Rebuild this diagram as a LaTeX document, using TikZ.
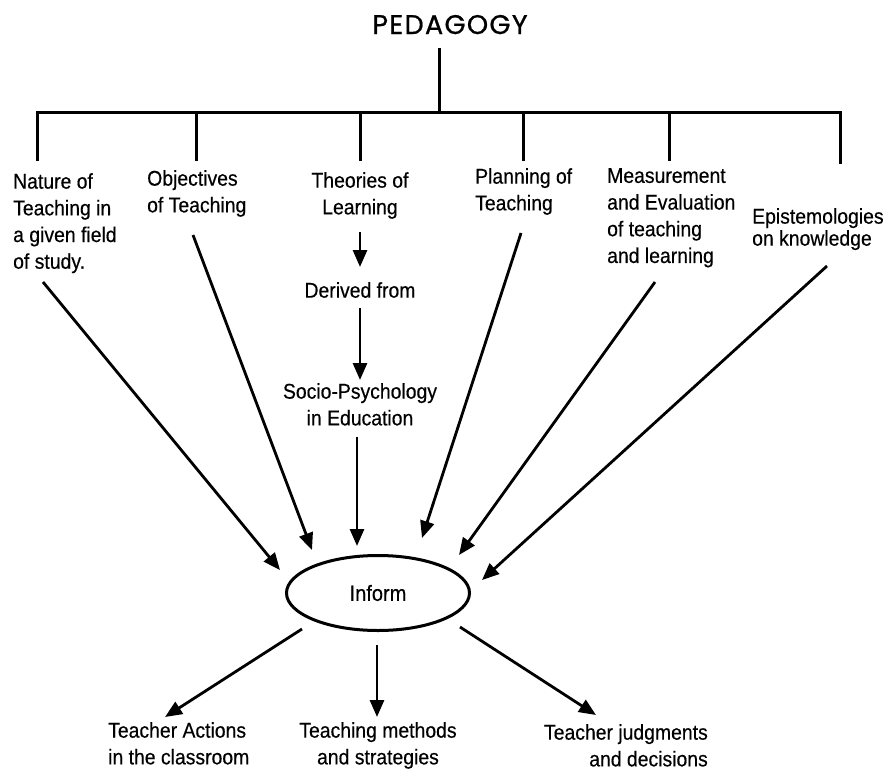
\documentclass[tikz,border=0pt]{standalone}
\usepackage{fontspec}
\setmainfont{Liberation Sans}[FakeStretch=0.91, FakeBold=0.4]
\newfontfamily\titlefont{Poppins}[LetterSpace=5, FakeBold=0.8]
\usetikzlibrary{arrows.meta,calc,shapes.geometric}

\tikzset{
  lbl/.style={inner sep=0pt, align=left, font=\fontsize{21.3}{26.7}\selectfont},
  tree/.style={line width=3pt},
  arr/.style={line width=2.8pt, -{Triangle[length=17pt,width=14pt]}},
}

\begin{document}
\begin{tikzpicture}[x=1pt, y=-1pt]
  \useasboundingbox (0,0) rectangle (886,772);

  % Title and tree
  \node[inner sep=0pt, anchor=base, font=\titlefont\fontsize{27}{30}\selectfont] (ped) at (450,34) {PEDAGOGY};
  \coordinate (root) at (439,112);
  \draw[tree] (ped.south) ++(-11,14) -- (root);
  \draw[tree] (37,161) |- (840,112) -- (840,164);
  \foreach \x in {196,360,523,669}
    \draw[tree] (\x,112) -- (\x,161);

  % Branches
  \node[lbl, anchor=north west] (nat) at (13,173) {Nature of\\Teaching in\\a given field\\of study.};
  \node[lbl, anchor=north west] (obj) at (147,170) {Objectives\\of Teaching};
  \node[lbl, anchor=north, align=center] (theo) at (360,172) {Theories of\\Learning};
  \node[lbl, anchor=north west] (plan) at (475,168) {Planning of\\Teaching};
  \node[lbl, anchor=north west] (meas) at (607,168) {Measurement\\and Evaluation\\of teaching\\and learning};
  \node[lbl, anchor=north west, font=\fontsize{21.3}{22}\selectfont] (epis) at (752,208) {Epistemologies\\on knowledge};

  % Middle chain
  \node[lbl, anchor=north, align=center] (der) at (360,282) {Derived from};
  \node[lbl, anchor=north, align=center] (soc) at (360,383) {Socio-Psychology\\in Education};
  \node[draw, ellipse, line width=3pt, minimum width=183pt, minimum height=75pt, inner sep=0pt,
        font=\fontsize{22}{24}\selectfont] (inform) at (378,593) {Inform};

  % Outcomes
  \node[lbl, anchor=north west] (act) at (108,722) {Teacher Actions\\in the classroom};
  \node[lbl, anchor=north, align=center] (meth) at (378,722) {Teaching methods\\and strategies};
  \node[lbl, anchor=north east, align=right] (judg) at (708,724) {Teacher judgments\\and decisions};

  % Arrows
  \draw[arr, shorten <=13pt, shorten >=15pt] (theo) -- (der);
  \draw[arr, shorten <=10pt, shorten >=3pt] (der) -- (soc);
  \draw[arr] ($(soc.south)+(-3,11)$) -- ($(soc.south |- inform.north)+(-3,-8)$);

  \draw[arr] ($(nat.north west)+(30,109)$) -- ($(inform)+(-98,-23)$);
  \draw[arr] ($(obj.north west)+(46,65)$) -- ($(inform)+(-66,-43)$);
  \draw[arr] ($(plan.north west)+(46,65)$) -- ($(inform)+(44,-55)$);
  \draw[arr] ($(meas.north west)+(48,114)$) -- ($(inform)+(81,-38)$);
  \draw[arr] ($(epis.north west)+(75,58)$) -- ($(inform)+(104,-13)$);

  \draw[arr] ($(inform)+(-76,36)$) -- ($(act.north west)+(57,-5)$);
  \draw[arr] ($(inform)+(-1,52)$) -- ($(meth.north)+(-1,-5)$);
  \draw[arr] ($(inform)+(82,34)$) -- ($(judg.north east)+(-112,-9)$);
\end{tikzpicture}
\end{document}
